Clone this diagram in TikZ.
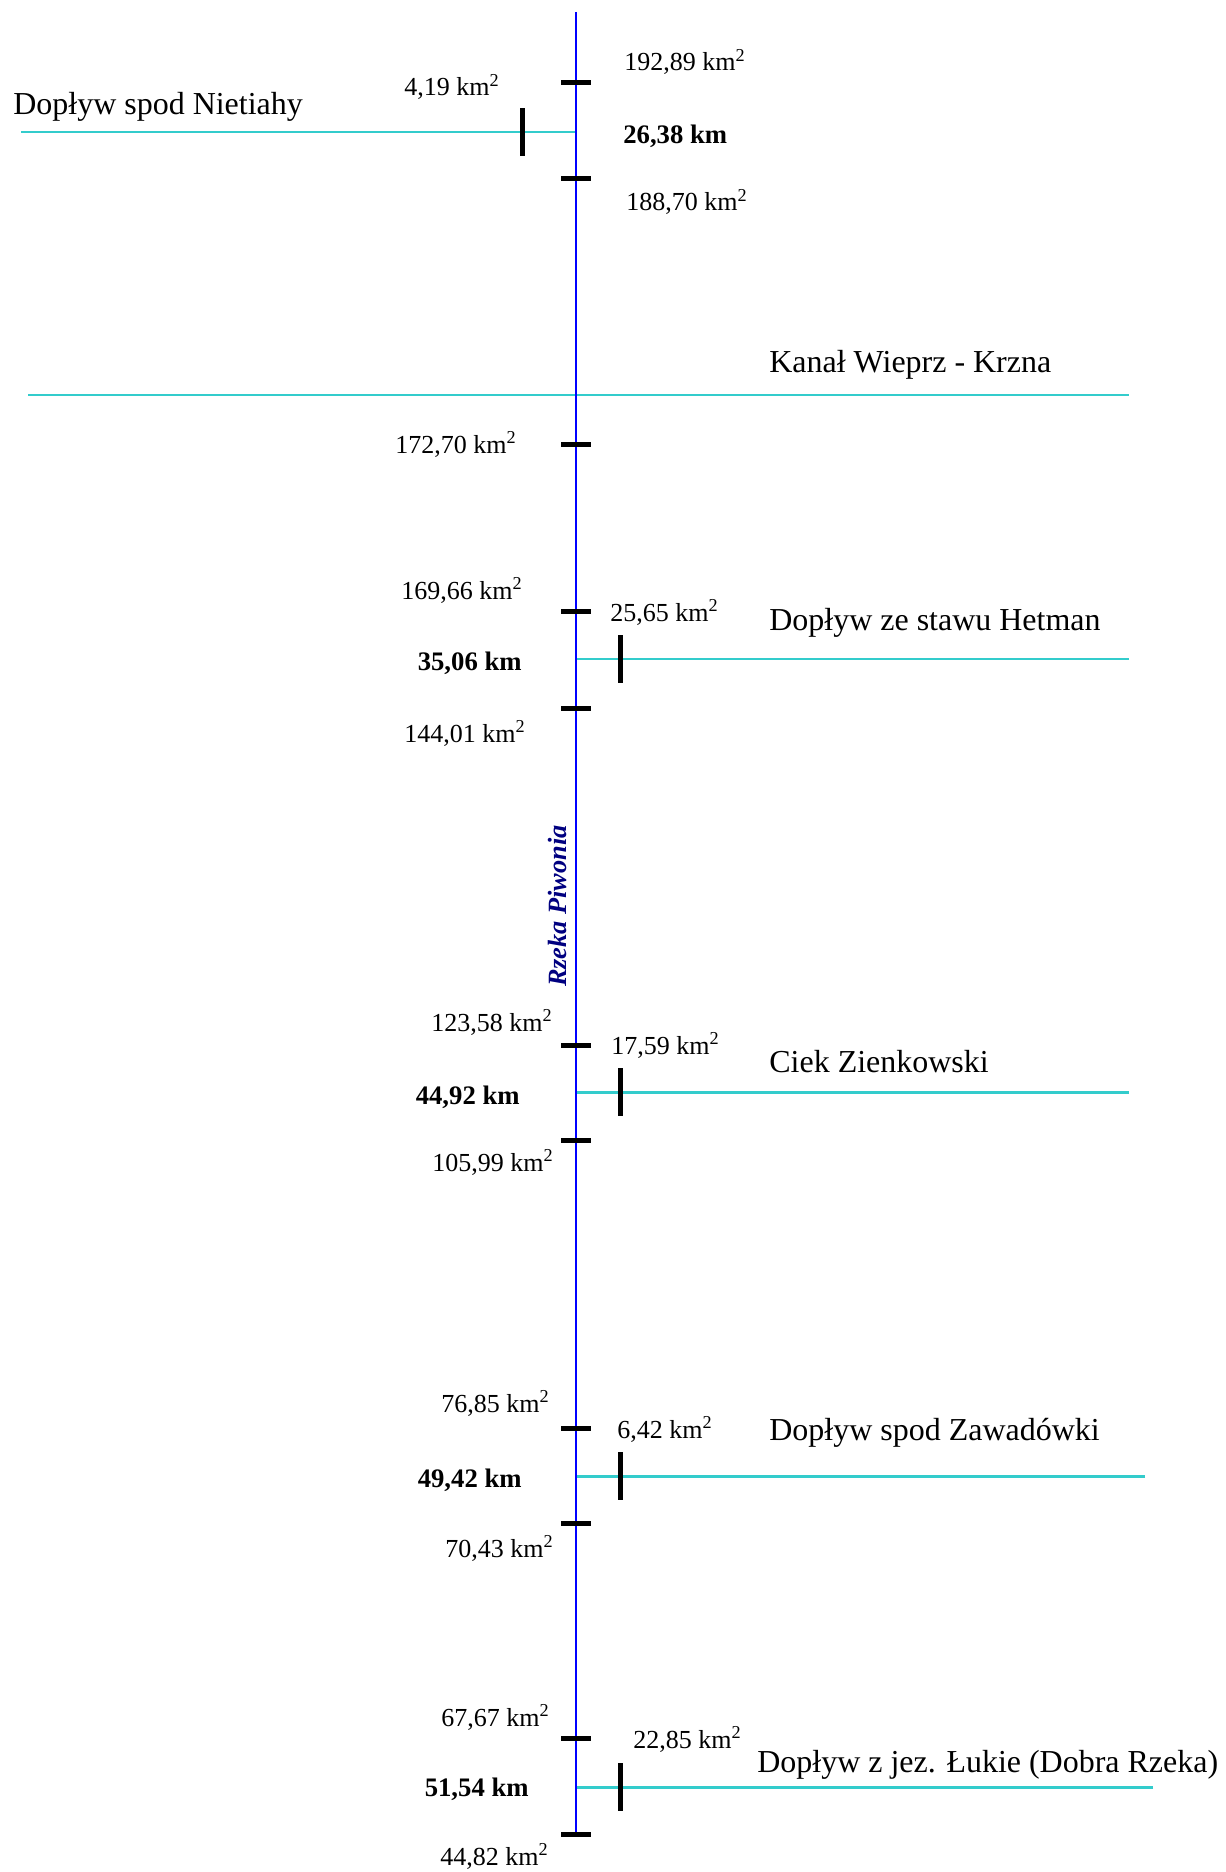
\documentclass[tikz,border=0pt]{standalone}
\usepackage{fontspec}
\setmainfont{Liberation Serif}
\usepackage{tikz}
\definecolor{niebieski}{HTML}{0000FF}
\definecolor{granat}{HTML}{000080}
\definecolor{turkus}{HTML}{33CCCC}
\tikzset{
  rzeka/.style={draw=niebieski,line width=1pt},
  doplyw/.style={draw=turkus,line width=1.7pt},
  znak/.style={fill=black,inner sep=0pt,minimum width=0.6cm,minimum height=0.1cm},
  wpad/.style={fill=black,inner sep=0pt,minimum width=0.1cm,minimum height=0.96cm},
  pole/.style={inner sep=0pt,font=\fontsize{14.8}{17}\selectfont},
  km/.style={inner sep=0pt,font=\fontsize{15.2}{17}\selectfont\bfseries},
  nazwa/.style={inner sep=0pt,font=\fontsize{18.2}{21}\selectfont,anchor=base west},
}

\begin{document}
\begin{tikzpicture}[x=0.02cm,y=-0.02cm]
  \useasboundingbox (0,0) rectangle (1226,1872);
  % punkty na rzece
  \coordinate (zrodlo) at (576,12); \coordinate (koniec) at (576,1835);
  \coordinate (p1) at (576,132); \coordinate (p3) at (576,659); \coordinate (p4) at (576,1092);
  \coordinate (p5) at (576,1476); \coordinate (p6) at (576,1787);
  \coordinate (s1) at (21,132); \coordinate (s3) at (1129,659); \coordinate (s4) at (1129,1092);
  \coordinate (s5) at (1145,1476); \coordinate (s6) at (1153,1787);
  \coordinate (k1) at (28,395); \coordinate (k2) at (1129,395);
  % doplywy i rzeka
  \draw[doplyw] (s1)--(p1); \draw[doplyw] (k1)--(k2); \draw[doplyw] (s3)--(p3);
  \draw[doplyw] (s4)--(p4); \draw[doplyw] (s5)--(p5); \draw[doplyw] (s6)--(p6);
  \draw[rzeka] (zrodlo)--(koniec);
  \node[rotate=90,inner sep=0pt,text=granat,font=\fontsize{15}{18}\selectfont\bfseries\itshape] (nazwarzeki) at (557,906) {Rzeka Piwonia};
  % znaczniki przekrojow
  \node[znak] (z1) at (576,83) {}; \node[znak] (z2) at (576,179) {};
  \node[znak] (z3) at (576,444) {}; \node[znak] (z4) at (576,611) {}; \node[znak] (z5) at (576,708) {};
  \node[znak] (z6) at (576,1045) {}; \node[znak] (z7) at (576,1140) {};
  \node[znak] (z8) at (576,1428) {}; \node[znak] (z9) at (576,1523) {};
  \node[znak] (z10) at (576,1738) {}; \node[znak] (z11) at (576,1834) {};
  \node[wpad] (w1) at (522,132) {}; \node[wpad] (w3) at (620,659) {}; \node[wpad] (w4) at (620,1092) {};
  \node[wpad] (w5) at (620,1476) {}; \node[wpad] (w6) at (620,1787) {};
  % opisy
  \node[pole,anchor=base west] (a1) at (624,71) {192,89 km\textsuperscript{2}};
  \node[km,anchor=base west] (d1) at (623,144) {26,38 km};
  \node[pole,anchor=base west] (a2) at (626,211) {188,70 km\textsuperscript{2}};
  \node[pole,anchor=base east] (b1) at (500,96) {4,19 km\textsuperscript{2}};
  \node[nazwa] (n1) at (13,115) {Dopływ spod Nietiahy};
  \node[nazwa] (n2) at (769,372) {Kanał Wieprz - Krzna};
  \node[pole,anchor=base east] (a3) at (517,453) {172,70 km\textsuperscript{2}};
  \node[pole,anchor=base east] (a4) at (523,599) {169,66 km\textsuperscript{2}};
  \node[pole,anchor=base west] (b3) at (610,621) {25,65 km\textsuperscript{2}};
  \node[nazwa] (n3) at (769,630) {Dopływ ze stawu Hetman};
  \node[km,anchor=base east] (d3) at (522,670) {35,06 km};
  \node[pole,anchor=base east] (a5) at (526,742) {144,01 km\textsuperscript{2}};
  \node[pole,anchor=base east] (a6) at (553,1031) {123,58 km\textsuperscript{2}};
  \node[pole,anchor=base west] (b4) at (611,1054) {17,59 km\textsuperscript{2}};
  \node[nazwa] (n4) at (769,1072) {Ciek Zienkowski};
  \node[km,anchor=base east] (d4) at (520,1104) {44,92 km};
  \node[pole,anchor=base east] (a7) at (554,1171) {105,99 km\textsuperscript{2}};
  \node[pole,anchor=base east] (a8) at (550,1412) {76,85 km\textsuperscript{2}};
  \node[pole,anchor=base west] (b5) at (617,1438) {6,42 km\textsuperscript{2}};
  \node[nazwa] (n5) at (769,1440) {Dopływ spod Zawadówki};
  \node[km,anchor=base east] (d5) at (522,1487) {49,42 km};
  \node[pole,anchor=base east] (a9) at (554,1557) {70,43 km\textsuperscript{2}};
  \node[pole,anchor=base east] (a10) at (550,1726) {67,67 km\textsuperscript{2}};
  \node[pole,anchor=base west] (b6) at (633,1748) {22,85 km\textsuperscript{2}};
  \node[nazwa] (n6) at (757,1772) {Dopływ z jez. Łukie (Dobra Rzeka)};
  \node[km,anchor=base east] (d6) at (529,1796) {51,54 km};
  \node[pole,anchor=base east] (a11) at (549,1865) {44,82 km\textsuperscript{2}};
\end{tikzpicture}
\end{document}
